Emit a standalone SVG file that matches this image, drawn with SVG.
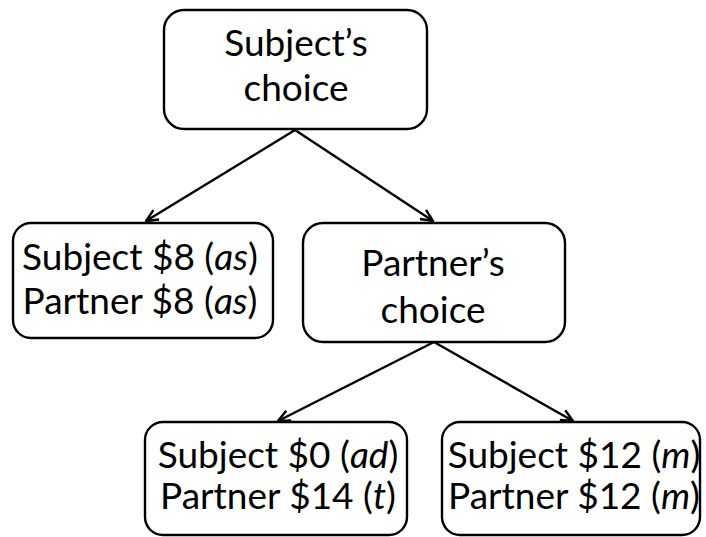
<svg xmlns="http://www.w3.org/2000/svg" width="706" height="537" viewBox="0 0 706 537">
  <style>
    .box { fill: #fff; stroke: #000; stroke-width: 2.4; }
    .lbl { font-family: Lato, "Open Sans", "Liberation Sans", sans-serif; font-size: 37px; fill: #000; text-anchor: middle; }
    .edge { stroke: #000; stroke-width: 2.4; fill: none; marker-end: url(#arrow); }
  </style>
  <defs>
    <marker id="arrow" viewBox="0 0 14 14" refX="13" refY="7" markerWidth="14" markerHeight="14" markerUnits="userSpaceOnUse" orient="auto">
      <path d="M1,1.5 L13,7 L1,12.5" fill="none" stroke="#000" stroke-width="2.4"/>
    </marker>
  </defs>

  <g id="connectors">
    <line class="edge" x1="295" y1="130" x2="146" y2="221"/>
    <line class="edge" x1="295" y1="130" x2="433" y2="221"/>
    <line class="edge" x1="434" y1="342" x2="278" y2="421"/>
    <line class="edge" x1="434" y1="342" x2="573" y2="421"/>
  </g>

  <g id="subject-choice">
    <rect class="box" x="164" y="10" width="263" height="119" rx="20"/>
    <text class="lbl" x="296" y="56">Subject’s</text>
    <text class="lbl" x="296" y="101">choice</text>
  </g>

  <g id="outcome-as">
    <rect class="box" x="13" y="223" width="260" height="115" rx="18"/>
    <text class="lbl" x="140" y="270">Subject $8 (<tspan font-style="italic">as</tspan>)</text>
    <text class="lbl" x="140" y="314">Partner $8 (<tspan font-style="italic">as</tspan>)</text>
  </g>

  <g id="partner-choice">
    <rect class="box" x="303" y="223" width="262" height="119" rx="20"/>
    <text class="lbl" x="433" y="276">Partner’s</text>
    <text class="lbl" x="433" y="323">choice</text>
  </g>

  <g id="outcome-ad-t">
    <rect class="box" x="145" y="422" width="262" height="113" rx="18"/>
    <text class="lbl" x="278" y="468">Subject $0 (<tspan font-style="italic">ad</tspan>)</text>
    <text class="lbl" x="278" y="509">Partner $14 (<tspan font-style="italic">t</tspan>)</text>
  </g>

  <g id="outcome-m">
    <rect class="box" x="442" y="422" width="258" height="113" rx="18"/>
    <text class="lbl" x="574" y="468">Subject $12 (<tspan font-style="italic">m</tspan>)</text>
    <text class="lbl" x="574" y="509">Partner $12 (<tspan font-style="italic">m</tspan>)</text>
  </g>
</svg>
